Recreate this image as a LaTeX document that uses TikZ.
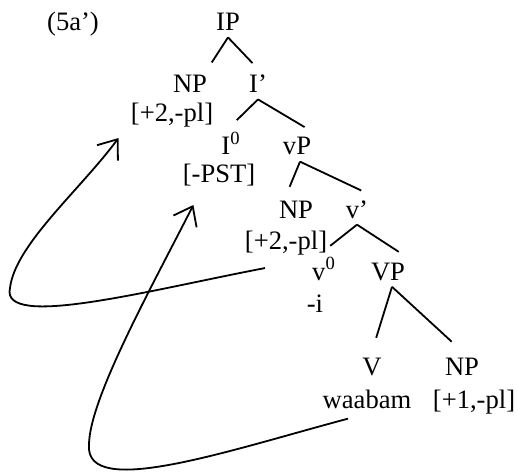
\documentclass[tikz,border=0pt]{standalone}
\usepackage{fontspec}
\setmainfont{Liberation Serif}
\usetikzlibrary{arrows.meta}

\begin{document}
\begin{tikzpicture}[
  x=0.5pt,y=-0.5pt,
  cat/.style={anchor=base,inner xsep=0pt,inner ysep=3pt,font=\fontsize{13.3}{16}\selectfont},
  branch/.style={draw=black,line width=0.9pt,shorten >=4pt},
  move/.style={-{Straight Barb[length=8.5pt,width=13pt]},draw=black,line width=0.9pt},
]
\useasboundingbox (0,0) rectangle (517,475);
% example number
\node[cat] (ex) at (73,31) {(5a’)};

% IP layer
\node[cat] (IP) at (228,31) {IP};
\node[cat] (NPa) at (190,93) {NP};
\node[cat] (NPaf) at (172,122) {[+2,-pl]};
\node[cat] (Ibar) at (258,93) {I’};
\node[cat] (Izero) at (231,155) {I\textsuperscript{0}};
\node[cat] (pst) at (219,183) {[-PST]};

% vP layer
\node[cat] (vP) at (297,155) {vP};
\node[cat] (NPb) at (296,218) {NP};
\node[cat] (NPbf) at (286,249) {[+2,-pl]};
\node[cat] (vbar) at (357,218) {v’};
\node[cat] (vzero) at (324,280) {v\textsuperscript{0}};
\node[cat] (suffix) at (315,312) {-i};

% VP layer
\node[cat] (VP) at (388,280) {VP};
\node[cat] (V) at (372,375) {V};
\node[cat] (root) at (367,408) {waabam};
\node[cat] (NPc) at (462,375) {NP};
\node[cat] (NPcf) at (474,408) {[+1,-pl]};

\draw[branch] (IP.south) -- (NPa.north east);
\draw[branch] (IP.south) -- (Ibar.north);
\draw[branch] (Ibar.south) -- (Izero.north);
\draw[branch] (Ibar.south) -- (vP.north east);
\draw[branch] ([xshift=1.5pt]vP.south) -- ([xshift=4pt]NPb.north west);
\draw[branch] ([xshift=1.5pt]vP.south) -- (vbar.north east);
\draw[branch] (vbar.south) -- (vzero.north);
\draw[branch] (vbar.south) -- (VP.north east);
\draw[branch,shorten >=7pt] ([xshift=2pt]VP.south) -- (V.north);
\draw[branch,shorten >=7pt] ([xshift=2pt]VP.south) -- (NPc.north);

% movement arrows
\draw[move] ([shift={(-21,7)}]NPbf.south) .. controls (150,290) and (0,330) .. (10,288)
  .. controls (15,245) and (80,190) .. ([shift={(-12,4)}]NPaf.south west);
\draw[move] ([shift={(-19,4)}]root.south) .. controls (230,450) and (85,500) .. (89,445)
  .. controls (89,400) and (150,290) .. ([shift={(11,12)}]pst.south west);
\end{tikzpicture}
\end{document}
